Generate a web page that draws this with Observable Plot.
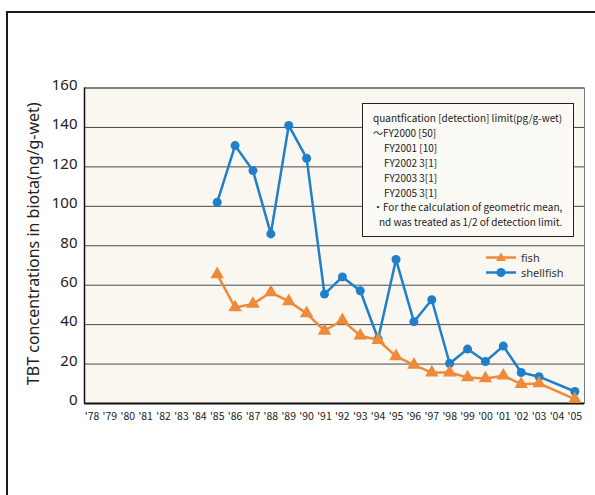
<!DOCTYPE html>
<html><head><meta charset="utf-8">
<script src="https://cdn.jsdelivr.net/npm/d3@7"></script>
<script src="https://cdn.jsdelivr.net/npm/@observablehq/plot@0.6"></script>
<style>
body{margin:0;background:#fff;}
#wrap{position:relative;width:595px;height:495px;overflow:hidden;font-family:"Noto Sans CJK JP","Noto Sans",sans-serif;}
#outer{position:absolute;left:6px;top:11px;width:700px;height:600px;border-left:2px solid #1a1a1a;border-top:2px solid #1a1a1a;}
#chart{position:absolute;left:0;top:0;}
#note{position:absolute;left:362px;top:103px;width:212px;height:134px;box-sizing:border-box;border:1px solid #222;background:#fbfaf5;font-size:10px;line-height:14.9px;padding:7px 0 0 10px;color:#222;white-space:nowrap;}
#note div.ind{padding-left:11px;}
#note div.ind2{padding-left:6px;}
#legend{position:absolute;left:486px;top:250px;font-family:"Noto Sans",sans-serif;font-size:11px;line-height:15px;color:#333;}
#legend div{display:flex;align-items:center;height:15px;}
#legend svg{margin-right:5px;flex:none;}
</style></head><body>
<div id="wrap"><div id="outer"></div><div id="chart"></div><div id="note"></div><div id="legend"></div></div>
<script>
const years = [1985,1986,1987,1988,1989,1990,1991,1992,1993,1994,1995,1996,1997,1998,1999,2000,2001,2002,2003,2004,2005];
const fish = [65.5,48.7,50.5,56.4,51.8,45.7,36.9,42.2,34.4,32.2,23.9,19.6,15.7,15.7,13.2,12.7,14.1,9.8,10.2,null,2.2];
const shellfish = [102,130.8,118.1,86,141,124.4,55.5,64.2,57.2,32.7,73,41.5,52.6,20.3,27.6,21.3,29.1,15.7,13.6,null,6.1];
const tickYears = [1978,1979,1980,1981,1982,1983,1984,1985,1986,1987,1988,1989,1990,1991,1992,1993,1994,1995,1996,1997,1998,1999,2000,2001,2002,2003,2004,2005];
const yTicks = [0,20,40,60,80,100,120,140,160];
const seriesNames = ["fish","shellfish"];
const yTitle = "TBT concentrations in biota(ng/g-wet)";
const noteLines = [
  "quantfication [detection] limit(pg/g-wet)",
  "〜FY2000 [50]",
  "FY2001 [10]",
  "FY2002 3[1]",
  "FY2003 3[1]",
  "FY2005 3[1]",
  "・For the calculation of geometric mean,",
  "nd was treated as 1/2 of detection limit."
];
const orange = "#ee8a3a";
const blue = "#1f7fca";
const xDomain = [1977.58, 2005.54];

const fishData = years.map((y,i)=>({year:y, v:fish[i]})).filter(d=>d.v!=null);
const shellData = years.map((y,i)=>({year:y, v:shellfish[i]})).filter(d=>d.v!=null);

const chart = Plot.plot({
  width: 595, height: 495,
  marginLeft: 84, marginRight: 11, marginTop: 87.5, marginBottom: 92,
  style: {background: "transparent", fontFamily: '"Noto Sans",sans-serif', color: "#222"},
  x: {type: "linear", domain: xDomain},
  y: {domain: [0,160]},
  marks: [
    Plot.frame({fill: "#f9f7f0", stroke: "#777", strokeWidth: 1}),
    Plot.gridY(yTicks.filter(d=>d>0), {stroke: "#4a4a4a", strokeOpacity: 1, strokeWidth: 1}),
    Plot.ruleY([0], {stroke: "#111", strokeWidth: 2}),
    Plot.ruleX([xDomain[0]], {stroke: "#111", strokeWidth: 1.5}),
    Plot.axisY(yTicks, {tickSize: 0, tickPadding: 7, fontSize: 15, dy: -3, label: null, fill: "#222"}),
    Plot.axisX(tickYears, {tickSize: 0, tickPadding: 9, fontSize: 10.5, fontFamily: '"Noto Sans CJK JP",sans-serif', tickFormat: d => "'" + String(d).slice(2), label: null, fill: "#222"}),
    Plot.text([yTitle], {frameAnchor: "left", textAnchor: "middle", rotate: -90, dx: -51, dy: -2, fontSize: 16, fill: "#222"}),
    Plot.line(shellData, {x: "year", y: "v", stroke: blue, strokeWidth: 2.5}),
    Plot.dot(shellData, {x: "year", y: "v", r: 4.5, fill: blue, symbol: "circle"}),
    Plot.line(fishData, {x: "year", y: "v", stroke: orange, strokeWidth: 2.5}),
    Plot.dot(fishData, {x: "year", y: "v", r: 5, fill: orange, symbol: "triangle"})
  ]
});
document.getElementById("chart").append(chart);

const note = document.getElementById("note");
noteLines.forEach((t,i)=>{
  const d = document.createElement("div");
  d.textContent = t;
  if (i>=2 && i<=5) d.className = "ind";
  if (i===7) d.className = "ind2";
  note.append(d);
});

const legend = document.getElementById("legend");
const cols = [orange, blue];
seriesNames.forEach((n,i)=>{
  const row = document.createElement("div");
  const sym = i===0 ? '<path d="M15,2.5 L20,11 L10,11 Z" fill="'+cols[i]+'"/>' : '<circle cx="15" cy="7.5" r="4.5" fill="'+cols[i]+'"/>';
  row.innerHTML = '<svg width="30" height="15"><line x1="0" x2="30" y1="7.5" y2="7.5" stroke="'+cols[i]+'" stroke-width="2.5"/>'+sym+'</svg><span>'+n+'</span>';
  legend.append(row);
});
</script>
</body></html>
